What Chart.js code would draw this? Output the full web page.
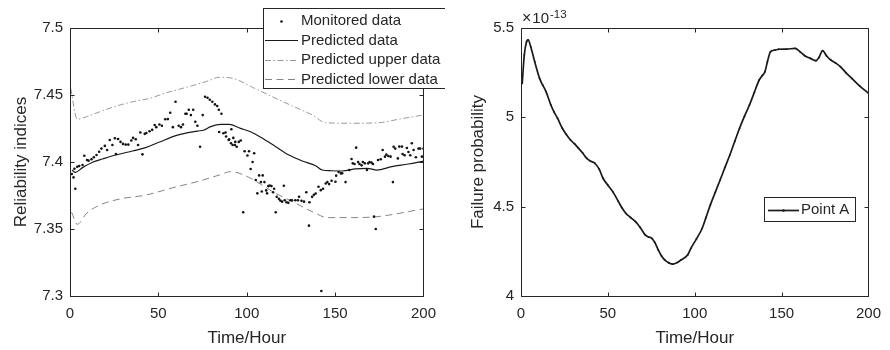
<!DOCTYPE html>
<html>
<head>
<meta charset="utf-8">
<script src="https://cdn.jsdelivr.net/npm/chart.js@4"></script>
<style>
  html, body { margin: 0; padding: 0; background: #fff; }
  #wrap { position: relative; width: 890px; height: 350px; }
  canvas { position: absolute; top: 0; }
  #leftChart { left: 0; }
  #rightChart { left: 445px; }
</style>
</head>
<body>
<div id="wrap">
  <canvas id="leftChart" width="445" height="350"></canvas>
  <canvas id="rightChart" width="445" height="350"></canvas>
</div>
<script>
// ── Left panel: reliability indices ────────────────────────────────────────
const monitoredT = [
  1.0, 2.0, 2.5, 3.0, 4.1, 5.2, 7.1, 8.1, 9.6, 10.5, 12.2, 13.5, 15.0, 16.5, 17.8, 19.7,
  21.0, 22.5, 24.0, 25.4, 26.0, 27.2, 28.6, 30.0, 31.5, 33.0, 34.7, 35.7, 37.2, 38.5, 39.8,
  41.0, 42.3, 43.2, 45.0, 46.5, 47.9, 48.8, 50.6, 52.0, 53.9, 55.4, 56.7, 58.2, 59.7, 61.5,
  62.8, 63.9, 65.3, 66.0, 67.2, 68.4, 69.7, 70.9, 72.1, 73.6, 75.1, 76.4, 77.8, 79.1, 80.5,
  82.0, 83.3, 84.2, 84.4, 85.7, 86.8, 88.0, 88.3, 89.8, 90.0, 91.1, 91.3, 92.0, 92.4, 93.3,
  93.5, 94.3, 95.5, 96.6, 98.0, 98.8, 100.4, 101.3, 102.2, 103.3, 104.2, 105.1, 106.0, 107.0,
  108.0, 108.5, 109.0, 110.0, 111.0, 111.5, 112.2, 113.0, 114.0, 114.9, 115.5, 116.4, 117.0,
  118.2, 119.0, 120.0, 121.0, 121.5, 122.5, 123.5, 124.7, 125.6, 127.5, 129.0, 129.6, 131.0,
  132.4, 133.7, 135.2, 135.5, 137.0, 138.0, 139.0, 140.6, 141.9, 142.2, 143.2, 144.7, 145.6,
  146.6, 148.0, 150.2, 150.6, 152.0, 153.3, 154.0, 155.9, 158.0, 159.3, 160.0, 161.0, 161.9,
  163.0, 163.8, 165.0, 165.7, 166.8, 168.0, 168.7, 169.5, 170.6, 171.4, 172.0, 173.0, 174.3,
  175.8, 176.9, 178.2, 179.0, 180.1, 181.4, 182.7, 183.1, 184.0, 185.5, 186.3, 187.8, 188.2,
  189.3, 190.6, 191.5, 192.5, 193.4, 194.4, 195.7, 197.2, 198.1, 199.1, 200.0
];
const monitoredV = [
  7.3910, 7.3885, 7.3950, 7.3800, 7.3965, 7.3970, 7.3978, 7.4047, 7.4015, 7.4010, 7.4020, 7.4035, 7.4052, 7.4077, 7.4100, 7.4120,
  7.4090, 7.4164, 7.4127, 7.4177, 7.4060, 7.4172, 7.4150, 7.4135, 7.4130, 7.4130, 7.4160, 7.4180, 7.4170, 7.4127, 7.4220,
  7.4057, 7.4210, 7.4216, 7.4230, 7.4240, 7.4276, 7.4260, 7.4280, 7.4270, 7.4319, 7.4320, 7.4368, 7.4260, 7.4450, 7.4270,
  7.4260, 7.4280, 7.4360, 7.4360, 7.4390, 7.4350, 7.4390, 7.4300, 7.4270, 7.4114, 7.4350, 7.4487, 7.4480, 7.4465, 7.4450,
  7.4430, 7.4418, 7.4390, 7.4224, 7.4360, 7.4214, 7.4220, 7.4190, 7.4164, 7.4170, 7.4140, 7.4244, 7.4127, 7.4180, 7.4127,
  7.4150, 7.4114, 7.4150, 7.4160, 7.3625, 7.4080, 7.4048, 7.4080, 7.3948, 7.4000, 7.4065, 7.3866, 7.3766, 7.3900,
  7.3850, 7.3780, 7.3900, 7.3850, 7.3788, 7.3766, 7.3820, 7.3825, 7.3820, 7.3774, 7.3800, 7.3625, 7.3741,
  7.3725, 7.3712, 7.3704, 7.3823, 7.3715, 7.3700, 7.3695, 7.3715, 7.3715, 7.3715, 7.3715, 7.3741, 7.3710,
  7.3704, 7.3774, 7.3525, 7.3700, 7.3740, 7.3755, 7.3765, 7.3815, 7.3790, 7.3037, 7.3800, 7.3840, 7.3850,
  7.3835, 7.3860, 7.3853, 7.3898, 7.3925, 7.3915, 7.3916, 7.3850, 7.3940, 7.4022, 7.3990, 7.3985, 7.4107,
  7.4000, 7.3985, 7.3975, 7.4000, 7.3990, 7.3940, 7.3990, 7.4000, 7.3995, 7.3985, 7.3592, 7.3500, 7.4015,
  7.4020, 7.4090, 7.4040, 7.4055, 7.4045, 7.4040, 7.3850, 7.4114, 7.4100, 7.4027, 7.4115, 7.4115, 7.4060,
  7.4050, 7.4105, 7.4075, 7.4050, 7.4140, 7.4090, 7.4035, 7.4100, 7.4100, 7.4040, 7.4100
];

const predictedT = [1.1, 3.0, 7.1, 12.8, 18.4, 25.9, 35.3, 42.8, 50.3, 60.8, 72.1, 75.9, 79.6, 85.3, 90.0,
  96.5, 102.1, 108.9, 116.4, 123.9, 131.4, 139.0, 142.7, 147.4, 154.0, 161.5, 168.0, 173.7, 182.1, 191.5, 200.0];
const predictedV = [7.3940, 7.3923, 7.3958, 7.3998, 7.4022, 7.4052, 7.4082, 7.4107, 7.4147, 7.4201, 7.4231, 7.4239, 7.4264, 7.4281, 7.4281,
  7.4251, 7.4226, 7.4177, 7.4114, 7.4052, 7.4007, 7.3972, 7.3940, 7.3935, 7.3933, 7.3948, 7.3953, 7.3940, 7.3965, 7.3985, 7.4007];

const upperT = [0.4, 4.1, 9.4, 16.9, 26.3, 35.7, 45.1, 54.5, 65.7, 77.0, 84.5, 92.0, 103.3, 114.5, 125.8,
  137.1, 144.6, 157.7, 174.6, 185.9, 200.0];
const upperV = [7.4550, 7.4319, 7.4338, 7.4375, 7.4418, 7.4450, 7.4475, 7.4517, 7.4557, 7.4600, 7.4632, 7.4625, 7.4557, 7.4487, 7.4418,
  7.4351, 7.4293, 7.4289, 7.4293, 7.4319, 7.4351];

const lowerT = [0.9, 4.1, 9.4, 16.9, 28.2, 43.2, 58.2, 73.2, 84.5, 90.9, 98.4, 116.4, 127.7, 139.0, 145.5,
  159.6, 173.7, 200.0];
const lowerV = [7.3625, 7.3535, 7.3617, 7.3679, 7.3724, 7.3754, 7.3808, 7.3858, 7.3903, 7.3928, 7.3903, 7.3766, 7.3692, 7.3617, 7.3585,
  7.3585, 7.3592, 7.3650];

// ── Right panel: failure probability (units of 1e-13) ──────────────────────
const failT = [0.7, 1.9, 3.2, 4.1, 5.6, 7.9, 10.7, 12.5, 14.4, 17.2, 19.0, 21.0, 23.8, 26.0, 28.5, 31.0,
  33.1, 35.5, 37.8, 40.0, 42.5, 45.0, 47.2, 50.0, 52.8, 56.0, 58.0, 60.3, 63.0, 65.9, 68.5, 71.5,
  73.5, 75.3, 77.0, 79.0, 80.8, 82.7, 85.0, 87.5, 90.0, 92.1, 95.9, 97.8, 101.0, 104.3, 106.5, 109.0,
  111.8, 114.6, 117.4, 120.2, 123.0, 125.8, 128.6, 131.5, 134.3, 137.1, 139.0, 140.4, 141.8, 143.6,
  146.0, 148.3, 153.0, 157.7, 160.5, 163.3, 166.5, 169.8, 171.5, 173.6, 175.8, 178.3, 181.0, 183.9,
  187.0, 190.4, 195.0, 200.0];
const failV = [5.190, 5.350, 5.423, 5.433, 5.395, 5.311, 5.218, 5.180, 5.144, 5.069, 5.030, 4.995, 4.939, 4.905, 4.873, 4.850,
  4.827, 4.800, 4.771, 4.755, 4.743, 4.710, 4.659, 4.620, 4.584, 4.530, 4.495, 4.463, 4.440, 4.416, 4.385, 4.342,
  4.330, 4.323, 4.300, 4.258, 4.225, 4.202, 4.186, 4.178, 4.188, 4.202, 4.230, 4.267, 4.320, 4.379, 4.440, 4.510,
  4.580, 4.649, 4.720, 4.789, 4.865, 4.939, 5.005, 5.069, 5.140, 5.209, 5.235, 5.255, 5.310, 5.367,
  5.376, 5.381, 5.382, 5.386, 5.368, 5.345, 5.330, 5.317, 5.335, 5.373, 5.345, 5.321, 5.305, 5.283,
  5.250, 5.218, 5.175, 5.135];

const xTicks = [0, 50, 100, 150, 200];

const INK = '#262626';
const FONT = 'Arial, "Liberation Sans", Helvetica, sans-serif';

function pairs(xs, ys) {
  return xs.map((x, i) => ({ x, y: ys[i] }));
}

// MATLAB-style box with inward ticks on all four sides.
const matlabFrame = {
  id: 'matlabFrame',
  afterDraw(chart, args, opts) {
    const { ctx, chartArea: a, scales } = chart;
    const L = opts.tickLength || 4;
    const left = Math.round(a.left) + 0.5, right = Math.round(a.right) + 0.5;
    const top = Math.round(a.top) + 0.5, bottom = Math.round(a.bottom) + 0.5;
    ctx.save();
    ctx.strokeStyle = INK;
    ctx.lineWidth = 1;
    ctx.beginPath();
    ctx.rect(left, top, right - left, bottom - top);
    scales.x.ticks.forEach(t => {
      const px = Math.round(scales.x.getPixelForValue(t.value)) + 0.5;
      ctx.moveTo(px, bottom); ctx.lineTo(px, bottom - L);
      ctx.moveTo(px, top); ctx.lineTo(px, top + L);
    });
    scales.y.ticks.forEach(t => {
      const py = Math.round(scales.y.getPixelForValue(t.value)) + 0.5;
      ctx.moveTo(left, py); ctx.lineTo(left + L, py);
      ctx.moveTo(right, py); ctx.lineTo(right - L, py);
    });
    ctx.stroke();
    ctx.restore();
  }
};

// Boxed legend drawn on top of the plot, built from the datasets' own styles.
const boxLegend = {
  id: 'boxLegend',
  afterDraw(chart, args, o) {
    if (!o || !o.box) return;
    const { ctx } = chart;
    const [bx, by, bw, bh] = o.box;
    ctx.save();
    ctx.fillStyle = '#fff';
    ctx.fillRect(bx, by, bw, bh);
    ctx.strokeStyle = INK;
    ctx.lineWidth = 1;
    ctx.strokeRect(bx + 0.5, by + 0.5, bw, bh);
    ctx.font = `${o.fontSize}px ${FONT}`;
    ctx.textBaseline = 'middle';
    chart.data.datasets.forEach((ds, i) => {
      const y = o.firstRow + i * o.rowGap;
      const x0 = o.lineX[0], x1 = o.lineX[1];
      const yy = Math.round(y) + 0.5;
      if (ds.showLine !== false) {
        ctx.strokeStyle = ds.borderColor;
        ctx.lineWidth = ds.borderWidth;
        ctx.setLineDash(ds.borderDash || []);
        ctx.beginPath();
        ctx.moveTo(x0, yy); ctx.lineTo(x1, yy);
        ctx.stroke();
        ctx.setLineDash([]);
      }
      if (ds.showLine === false || ds.legendDot) {
        ctx.fillStyle = ds.pointBackgroundColor || ds.borderColor;
        ctx.beginPath();
        ctx.arc((x0 + x1) / 2, yy, 1.3, 0, Math.PI * 2);
        ctx.fill();
      }
      ctx.fillStyle = INK;
      ctx.fillText(ds.label, o.textX, y + 0.5);
    });
    ctx.restore();
  }
};

// "×10^-13" exponent label above the right axis.
const exponentLabel = {
  id: 'exponentLabel',
  afterDraw(chart, args, o) {
    if (!o || !o.text) return;
    const { ctx } = chart;
    ctx.save();
    ctx.fillStyle = INK;
    ctx.textBaseline = 'alphabetic';
    ctx.font = `16px ${FONT}`;
    ctx.fillText('\u00d7', o.x, o.y);
    let x = o.x + ctx.measureText('\u00d7').width + 1;
    ctx.font = `15px ${FONT}`;
    ctx.fillText('10', x, o.y);
    x += ctx.measureText('10').width + 1;
    ctx.font = `11.5px ${FONT}`;
    ctx.fillText(o.text, x, o.y - 5);
    ctx.restore();
  }
};

function axisX(title) {
  return {
    type: 'linear', min: 0, max: 200,
    afterBuildTicks: s => { s.ticks = xTicks.map(v => ({ value: v })); },
    afterFit: s => { s.height = 54; },
    grid: { display: false, drawTicks: false },
    border: { display: false },
    ticks: { color: INK, font: { family: FONT, size: 15 }, padding: 9, maxRotation: 0, autoSkip: false },
    title: { display: true, text: title, color: INK, font: { family: FONT, size: 17 }, padding: { top: 0, bottom: 1 } }
  };
}

function axisY(min, max, step, title, width, titlePad, fmt) {
  return {
    type: 'linear', min, max,
    afterFit: s => { s.width = width; },
    grid: { display: false, drawTicks: false },
    border: { display: false },
    ticks: { stepSize: step, color: INK, font: { family: FONT, size: 15 }, padding: 7, callback: fmt },
    title: { display: true, text: title, color: INK, font: { family: FONT, size: 17 }, padding: { top: titlePad, bottom: 0 } }
  };
}

const common = {
  responsive: false,
  animation: false,
  events: [],
  plugins: { legend: { display: false }, tooltip: { enabled: false }, matlabFrame: { tickLength: 4 } }
};

new Chart(document.getElementById('leftChart'), {
  type: 'scatter',
  data: {
    datasets: [
      { label: 'Monitored data', data: pairs(monitoredT, monitoredV), showLine: false,
        pointRadius: 1.3, pointBackgroundColor: '#141414', pointBorderWidth: 0, borderColor: '#141414' },
      { label: 'Predicted data', data: pairs(predictedT, predictedV), showLine: true, pointRadius: 0,
        borderColor: '#1a1a1a', borderWidth: 1.2, cubicInterpolationMode: 'monotone' },
      { label: 'Predicted upper data', data: pairs(upperT, upperV), showLine: true, pointRadius: 0,
        borderColor: '#9a9a9a', borderWidth: 1, borderDash: [6, 2.5, 1.5, 2.5], cubicInterpolationMode: 'monotone' },
      { label: 'Predicted lower data', data: pairs(lowerT, lowerV), showLine: true, pointRadius: 0,
        borderColor: '#858585', borderWidth: 1, borderDash: [7, 4.5], cubicInterpolationMode: 'monotone' }
    ]
  },
  options: {
    ...common,
    layout: { padding: { left: 0, top: 28, right: 20, bottom: 0 } },
    scales: {
      x: axisX('Time/Hour'),
      y: axisY(7.3, 7.5, 0.05, 'Reliability indices', 70, 11, v => String(+v.toFixed(2)))
    },
    plugins: {
      ...common.plugins,
      boxLegend: { box: [263, 8, 182, 80], fontSize: 15, firstRow: 20.5, rowGap: 19.5, lineX: [265, 298], textX: 301 }
    }
  },
  plugins: [matlabFrame, boxLegend]
});

new Chart(document.getElementById('rightChart'), {
  type: 'scatter',
  data: {
    datasets: [
      { label: 'Point A', data: pairs(failT, failV), showLine: true, legendDot: true,
        pointRadius: 0.9, pointBackgroundColor: '#1a1a1a', pointBorderWidth: 0,
        borderColor: '#1a1a1a', borderWidth: 1.7, cubicInterpolationMode: 'monotone' }
    ]
  },
  options: {
    ...common,
    layout: { padding: { left: 0, top: 28, right: 13, bottom: 0 } },
    scales: {
      x: axisX('Time/Hour'),
      y: axisY(4, 5.5, 0.5, 'Failure probability', 76, 23, v => String(+v.toFixed(1)))
    },
    plugins: {
      ...common.plugins,
      boxLegend: { box: [319, 197, 91, 24], fontSize: 15, firstRow: 209.5, rowGap: 19.5, lineX: [323, 354], textX: 356 },
      exponentLabel: { x: 77, y: 23, text: '-13' }
    }
  },
  plugins: [matlabFrame, boxLegend, exponentLabel]
});
</script>
</body>
</html>
